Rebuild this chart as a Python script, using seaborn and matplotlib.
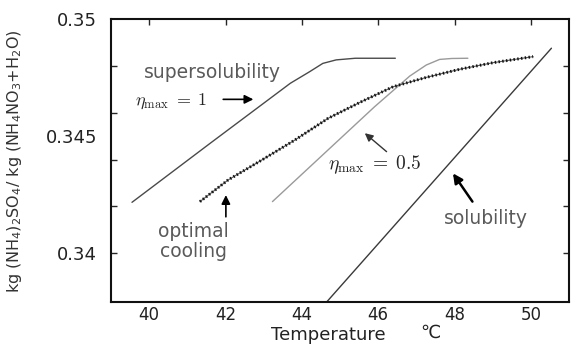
import matplotlib
matplotlib.use("Agg")
import matplotlib.pyplot as plt
import seaborn as sns
from matplotlib.ticker import FixedLocator, NullFormatter

# values: temperature (C) vs kg (NH4)2SO4 / kg (NH4NO3+H2O)
super_T = [39.55, 41.6, 43.7, 44.2, 44.55, 44.9, 45.4, 46.45]
super_c = [0.34217, 0.3447, 0.34727, 0.34776, 0.34812, 0.34827, 0.34834, 0.34834]

half_T = [43.23, 45.91, 46.83, 47.26, 47.61, 47.93, 48.35]
half_c = [0.3422, 0.34627, 0.34758, 0.34805, 0.34829, 0.34833, 0.34834]

opt_T = [41.33, 42.07, 42.95, 43.82, 44.69, 45.56, 46.39, 47.26, 48.14, 49.01, 50.06]
opt_c = [0.3422, 0.34313, 0.34398, 0.34484, 0.34577, 0.34648, 0.34712, 0.34752,
         0.34787, 0.34815, 0.34841]

sol_T = [44.65, 50.54]
sol_c = [0.3379, 0.34877]

x_ticks = [40, 42, 44, 46, 48, 50]
y_labels_at = [0.34, 0.345, 0.35]
y_labels = ['0.34', '0.345', '0.35']
y_marks = [0.34, 0.342, 0.344, 0.346, 0.348]

sns.set_style("white")
plt.rcParams['font.family'] = ['DejaVu Sans', 'Noto Sans CJK KR']
plt.rcParams['mathtext.fontset'] = 'dejavusans'

fig = plt.figure(figsize=(5.71, 3.45), dpi=100)
ax = fig.add_axes([0.1944, 0.1246, 0.8021, 0.8189])

# main curves
sns.lineplot(x=super_T, y=super_c, ax=ax, color='#4a4a4a', linewidth=1.0,
             sort=False, estimator=None)
sns.lineplot(x=half_T, y=half_c, ax=ax, color='#9a9a9a', linewidth=1.0,
             sort=False, estimator=None)
sns.lineplot(x=sol_T, y=sol_c, ax=ax, color='#3a3a3a', linewidth=1.0,
             sort=False, estimator=None)
# optimal cooling: dense x-marker look
sns.lineplot(x=opt_T, y=opt_c, ax=ax, color='#555555', linewidth=0.8,
             sort=False, estimator=None)
sns.lineplot(x=opt_T, y=opt_c, ax=ax, color='#111111', linewidth=2.1,
             linestyle=(0, (0.5, 0.8)), sort=False, estimator=None)

ax.set_xlim(39, 51)
ax.set_ylim(0.3379, 0.35)

ax.set_xticks(x_ticks)
ax.set_yticks(y_labels_at)
ax.set_yticklabels(y_labels)
ax.yaxis.set_minor_locator(FixedLocator(y_marks))
ax.yaxis.set_minor_formatter(NullFormatter())
ax.yaxis.remove_overlapping_locs = False

ax.tick_params(axis='x', which='major', direction='in', top=True, length=4,
               width=1, labelsize=12, pad=3, labelcolor='#222222')
ax.tick_params(axis='y', which='major', length=0, labelsize=13, pad=10,
               labelcolor='#222222')
ax.tick_params(axis='y', which='minor', direction='in', left=True, right=True,
               length=4, width=1)

for s in ax.spines.values():
    s.set_linewidth(1.5)
    s.set_color('#111111')

ax.set_ylabel(r'kg (NH$_4$)$_2$SO$_4$/ kg (NH$_4$NO$_3$+H$_2$O)', fontsize=11.5,
              color='#333333')
ax.yaxis.set_label_coords(-0.19, 0.5)
ax.set_xlabel('Temperature', fontsize=13, color='#222222')
ax.xaxis.label.set_va('baseline')
ax.xaxis.set_label_coords(0.474, -0.134)
fig.text(0.7356, 0.020, '℃', fontsize=13, color='#222222', va='baseline')

# annotations
txt_gray = '#5a5a5a'
arrow = dict(arrowstyle='-|>', color='black', lw=1.2, mutation_scale=13,
             shrinkA=0, shrinkB=0)

ax.text(41.67, 0.34775, 'supersolubility', fontsize=13.5, color=txt_gray,
        ha='center', va='center')
ax.text(40.57, 0.34651, r'$\eta_{\mathrm{max}}\; =\; 1$', fontsize=13,
        ha='center', va='center', math_fontfamily='cm')
ax.annotate('', xy=(42.73, 0.34658), xytext=(41.94, 0.34658), arrowprops=arrow)

ax.text(41.17, 0.34048, 'optimal\ncooling', fontsize=13.5, color=txt_gray,
        ha='center', va='center', linespacing=1.05)
ax.annotate('', xy=(42.01, 0.34248), xytext=(42.01, 0.34155), arrowprops=arrow)

ax.text(45.91, 0.34377, r'$\eta_{\mathrm{max}}\; =\; 0.5$', fontsize=14,
        ha='center', va='center', math_fontfamily='cm')
ax.annotate('', xy=(45.65, 0.34513), xytext=(46.22, 0.34434),
            arrowprops=dict(arrowstyle='-|>', color='#333333', lw=1.0,
                            mutation_scale=12, shrinkA=0, shrinkB=0))

ax.text(48.82, 0.34146, 'solubility', fontsize=13.5, color=txt_gray,
        ha='center', va='center')
ax.annotate('', xy=(47.96, 0.34341), xytext=(48.47, 0.3422),
            arrowprops=dict(arrowstyle='-|>', color='black', lw=1.8,
                            mutation_scale=14, shrinkA=0, shrinkB=0))

fig.savefig('out.png', dpi=100)
